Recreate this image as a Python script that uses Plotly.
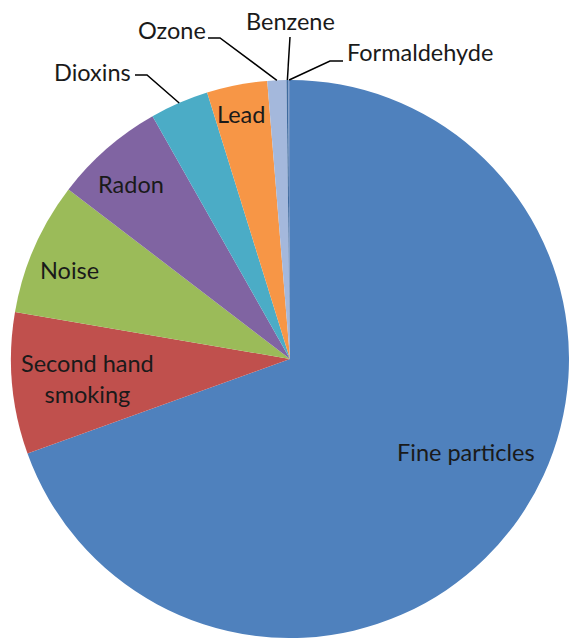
import math
import plotly.graph_objects as go

# ---- data ----
categories = ["Fine particles", "Second hand smoking", "Noise", "Radon", "Dioxins",
              "Lead", "Ozone", "Benzene", "Formaldehyde"]
values = [69.5, 8.2, 7.7, 6.4, 3.4, 3.5, 1.1, 0.1, 0.1]
label_text = ["Fine particles", "Second hand<br>smoking", "Noise", "Radon", "Dioxins",
              "Lead", "Ozone", "Benzene", "Formaldehyde"]

# ---- style / layout ----
W, H = 569, 638
CX, CY, R = 290, 359, 279
colors = ["#4F81BD", "#C0504D", "#9BBB59", "#8064A2", "#4BACC6",
          "#F79646", "#A4B8DC", "#3E6A9E", "#6C8FC2"]
FONT = "Lato"
FS = 23.5

# label anchor positions in pixels (text centres); outside ones get leader lines
label_pos = {
    "Fine particles": (466, 452),
    "Second hand smoking": (87, 378),
    "Noise": (69, 270),
    "Radon": (131, 184),
    "Lead": (241, 114),
    "Dioxins": (93, 72),
    "Ozone": (172, 30),
    "Benzene": (290, 21),
    "Formaldehyde": (420, 52),
}
# leader line elbows (pixel) for outside labels: (text-side end, elbow)
leaders = {
    "Dioxins": [(135, 75), (147, 75)],
    "Ozone": [(208, 38), (220, 38)],
    "Benzene": [(290, 37)],
    "Formaldehyde": [(343, 61), (330, 61)],
}


def px(x, y):
    return x / W, 1 - y / H


fig = go.Figure(go.Pie(
    labels=categories, values=values, sort=False, direction="clockwise",
    rotation=0, textinfo="none", hoverinfo="label+percent",
    marker=dict(colors=colors, line=dict(width=0)),
    domain=dict(x=[(CX - R) / W, (CX + R) / W], y=[1 - (CY + R) / H, 1 - (CY - R) / H]),
    showlegend=False,
))

total = sum(values)
cum = 0.0
annotations = []
shapes = []
for cat, txt, v in zip(categories, label_text, values):
    a0 = cum / total * 360
    cum += v
    a1 = cum / total * 360
    mid = math.radians((a0 + a1) / 2)
    ex, ey = CX + R * math.sin(mid), CY - R * math.cos(mid)
    lx, ly = label_pos[cat]
    X, Y = px(lx, ly)
    annotations.append(dict(x=X, y=Y, xref="paper", yref="paper", text=txt,
                            showarrow=False, xanchor="center", yanchor="middle",
                            font=dict(family=FONT, size=FS, color="#1a1a1a")))
    if cat in leaders:
        pts = leaders[cat] + [(ex, ey)]
        path = "M " + " L ".join(f"{px(x, y)[0]},{px(x, y)[1]}" for x, y in pts)
        shapes.append(dict(type="path", xref="paper", yref="paper", path=path,
                           line=dict(color="#000000", width=1.5)))

fig.update_layout(width=W, height=H, margin=dict(l=0, r=0, t=0, b=0),
                  paper_bgcolor="white", plot_bgcolor="white",
                  annotations=annotations, shapes=shapes)
fig.write_html("out.html")
